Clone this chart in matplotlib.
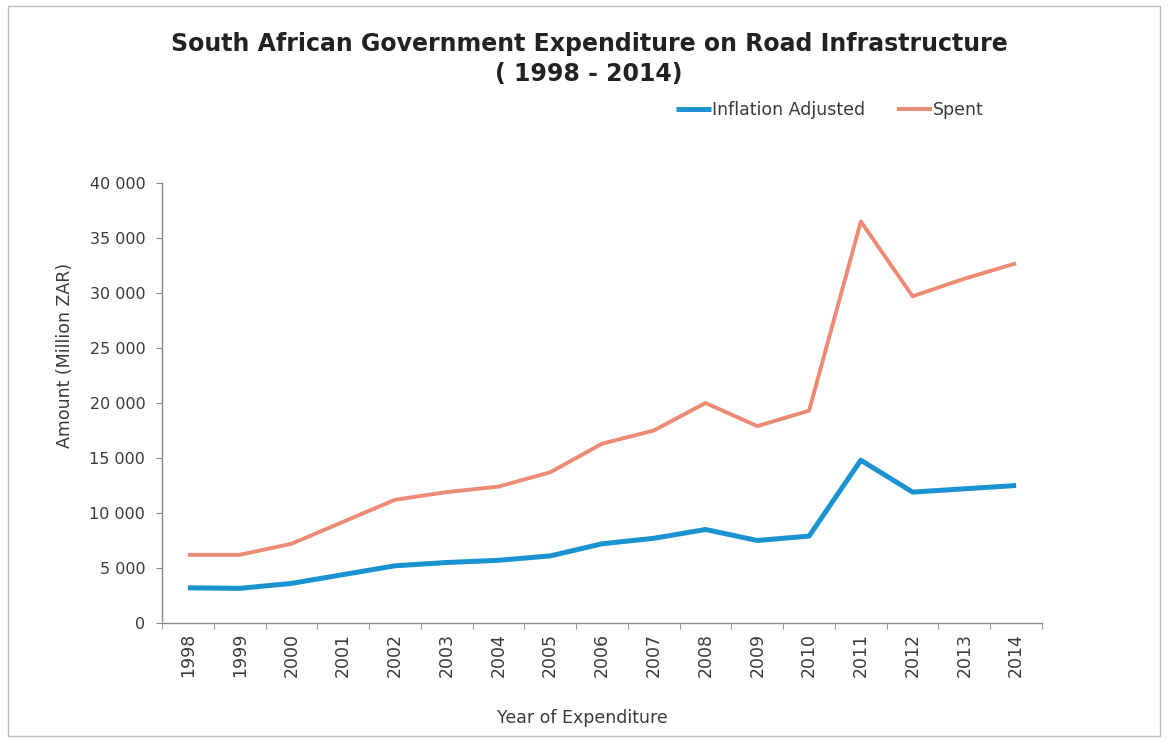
import matplotlib.pyplot as plt
import matplotlib.ticker as mticker
from matplotlib.patches import Rectangle

years = ['1998', '1999', '2000', '2001', '2002', '2003', '2004', '2005', '2006',
         '2007', '2008', '2009', '2010', '2011', '2012', '2013', '2014']
inflation_adjusted = [3200, 3150, 3600, 4400, 5200, 5500, 5700, 6100, 7200,
                      7700, 8500, 7500, 7900, 14800, 11900, 12200, 12500]
spent = [6200, 6200, 7200, 9200, 11200, 11900, 12400, 13700, 16300,
         17500, 20000, 17900, 19300, 36500, 29700, 31300, 32700]

blue = '#1b93d3'
salmon = '#ec8a73'
txt = '#3a3a3a'

plt.rcParams['font.family'] = 'DejaVu Sans'

fig = plt.figure(figsize=(11.69, 7.42), dpi=100)
ax = fig.add_axes([162 / 1169, 1 - 623 / 742, 880 / 1169, 440 / 742])

x = list(range(len(years)))
ax.plot(x, inflation_adjusted, color=blue, lw=3.6, label='Inflation Adjusted', solid_capstyle='butt')
ax.plot(x, spent, color=salmon, lw=2.8, label='Spent', solid_capstyle='butt')

ax.set_xlim(-0.5, len(years) - 0.5)
ax.set_ylim(0, 40000)
ax.set_yticks(range(0, 40001, 5000))
ax.yaxis.set_major_formatter(mticker.FuncFormatter(lambda v, p: f'{int(v):,}'.replace(',', ' ')))
ax.set_xticks(x)
ax.set_xticklabels(years, rotation=90, fontsize=12.5, color=txt)
ax.set_xticks([i + 0.5 for i in range(-1, len(years))], minor=True)
ax.tick_params(axis='x', which='major', length=0, pad=7)
ax.tick_params(axis='x', which='minor', length=4, color='#888888', direction='out')
ax.tick_params(axis='y', length=4, color='#888888', labelsize=11.5, labelcolor=txt, pad=8)

for s in ['top', 'right']:
    ax.spines[s].set_visible(False)
for s in ['left', 'bottom']:
    ax.spines[s].set_color('#888888')
    ax.spines[s].set_linewidth(1.0)

fig.text(582 / 1169, 1 - 718 / 742, 'Year of Expenditure', ha='center', va='center',
         fontsize=12.5, color=txt)
fig.text(65 / 1169, 1 - 355 / 742, 'Amount (Million ZAR)', ha='center', va='center',
         rotation=90, fontsize=12.5, color=txt)

fig.text(589 / 1169, 1 - 44 / 742, 'South African Government Expenditure on Road Infrastructure',
         ha='center', va='center', fontsize=17, fontweight='bold', color='#222222')
fig.text(589 / 1169, 1 - 74 / 742, '( 1998 - 2014)',
         ha='center', va='center', fontsize=17, fontweight='bold', color='#222222')

leg = fig.legend(loc='center', bbox_to_anchor=(830 / 1169, 1 - 110 / 742), ncol=2, frameon=False,
                 fontsize=12.5, handlelength=2.0, handletextpad=0.1, columnspacing=1.8)
for t in leg.get_texts():
    t.set_color(txt)

fig.patches.append(Rectangle((8 / 1169, 6 / 742), 1152 / 1169, 730 / 742, transform=fig.transFigure,
                             fill=False, edgecolor='#bbbbbb', lw=1.0))

fig.savefig('out.png', dpi=100)
